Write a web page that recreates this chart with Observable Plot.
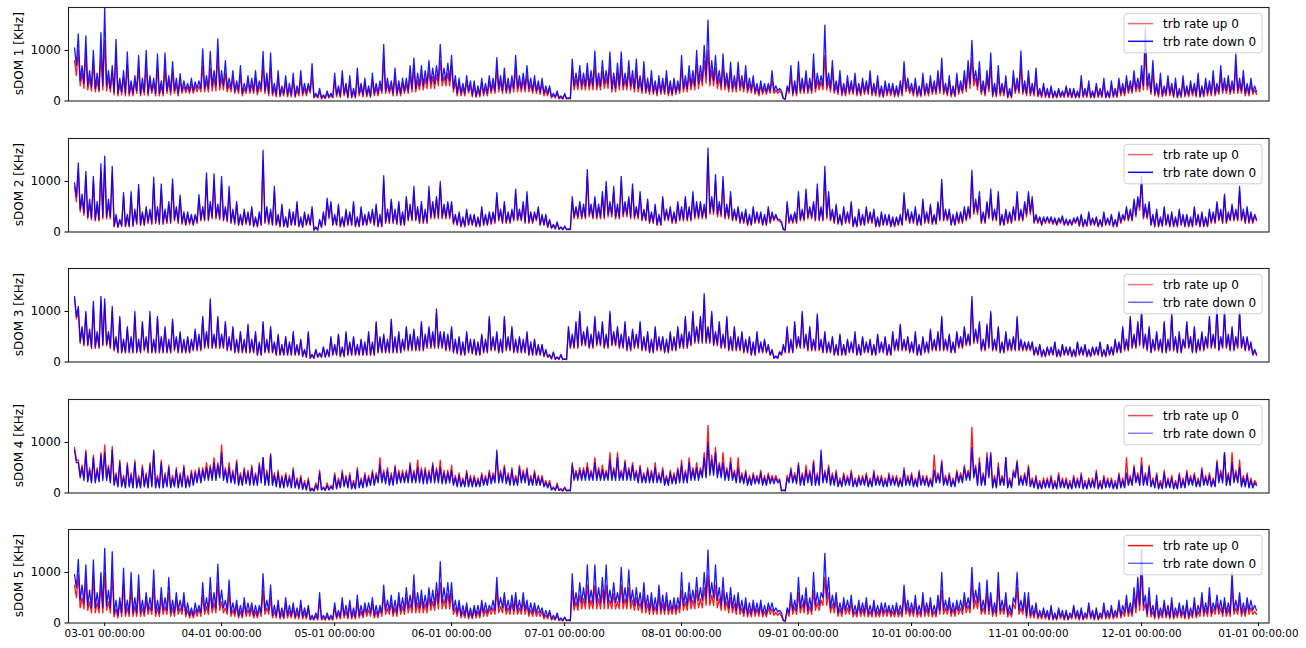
<!DOCTYPE html>
<html>
<head>
<meta charset="utf-8">
<script src="https://cdn.jsdelivr.net/npm/d3@7"></script>
<script src="https://cdn.jsdelivr.net/npm/@observablehq/plot@0.6"></script>
<style>
  html, body { margin: 0; padding: 0; background: #fff; overflow: hidden; }
  #chart svg { display: block; }
</style>
</head>
<body>
<div id="chart"></div>
<script>
// Readings starting 2022-02-21 (values in KHz): one value per day at 00:00 (pXDown / pXUp)
// and one value per day at 12:00 (pXDownMid / pXUpMid, the troughs between daily spikes).
const startDay = "2022-02-21";
const panelLabels = ["sDOM 1 [KHz]", "sDOM 2 [KHz]", "sDOM 3 [KHz]", "sDOM 4 [KHz]", "sDOM 5 [KHz]"];
const seriesNames = ["trb rate up 0", "trb rate down 0"];
const yTicks = [0, 1000];

const p1Down = [
 1050,1330,700,1290,600,1000,550,1350,
 1840,600,700,1220,450,600,970,400,500,900,450,1000,500,450,930,400,950,500,780,450,540,400,350,450,380,400,1030,500,980,600,1230,
 600,800,450,600,400,700,350,500,450,600,400,980,550,950,350,600,300,500,350,550,300,600,350,350,740,150,250,120,200,150,
 550,300,600,350,500,250,650,350,450,300,550,350,400,1120,450,400,650,400,450,450,700,850,550,700,600,800,650,700,1120,650,750,
 900,500,450,350,500,400,400,300,450,350,500,450,860,500,650,450,500,900,500,550,700,450,500,400,450,300,300,150,200,100,
 150,60,830,550,700,550,750,600,990,550,800,600,970,550,750,970,550,800,600,830,500,780,450,600,400,500,450,600,400,450,400,
 900,500,700,600,1000,700,1100,1600,800,900,600,930,550,770,500,770,500,700,450,500,350,400,350,350,600,300,250,50,300,700,400,
 780,450,600,450,930,550,500,1500,550,800,400,600,350,500,400,550,350,450,400,600,350,500,300,400,350,350,300,400,780,450,
 350,450,300,550,350,500,400,600,850,350,500,300,550,400,600,800,1200,600,780,400,600,950,350,700,350,500,250,600,450,990,400,
 600,350,650,250,350,250,300,200,250,200,300,250,250,200,500,250,400,200,350,250,450,200,400,250,450,350,500,400,600,450,
 700,1450,550,800,350,550,300,500,350,450,250,500,300,400,350,550,300,450,400,600,350,700,450,500,400,930,450,600,350,450,300
];
const p1DownMid = [
 700,400,350,300,280,250,220,300,
 300,250,180,150,180,150,150,150,200,150,180,150,200,150,150,150,200,180,200,150,200,220,200,200,250,250,250,250,300,300,300,
 300,250,250,200,200,150,200,200,200,180,250,200,150,150,120,120,150,120,120,100,150,150,150,200,80,80,60,70,80,80,
 120,100,150,80,80,80,150,120,120,100,150,150,200,200,200,150,150,150,200,200,250,250,300,300,350,350,350,400,400,400,400,
 250,150,150,150,200,120,100,120,150,150,200,200,250,200,200,200,250,250,250,250,250,200,200,180,150,150,80,80,60,50,
 50,50,300,300,300,300,300,300,300,300,350,350,250,250,300,300,300,300,250,250,200,200,180,180,150,180,180,150,150,180,200,
 250,250,300,300,350,400,500,400,400,350,300,300,250,250,250,280,250,220,220,180,150,180,180,200,200,200,200,40,200,150,150,
 200,200,200,200,250,300,300,300,250,200,180,150,150,180,180,150,150,180,180,150,150,120,100,150,150,120,120,150,250,200,
 150,120,120,150,150,180,180,200,180,150,120,120,180,200,250,350,400,300,180,150,250,120,120,150,150,80,80,200,200,180,150,
 150,150,120,100,100,80,80,80,100,100,100,80,80,80,100,100,80,80,100,100,80,80,100,100,150,150,200,200,250,250,
 300,300,180,150,120,120,150,150,100,80,100,120,120,150,120,100,120,150,150,150,180,200,200,180,200,200,200,150,150,180,180
];
const p1Up = [
 800,1000,550,950,450,750,400,900,
 1200,450,550,900,330,450,700,300,380,650,330,700,380,350,650,300,650,380,550,330,400,300,280,330,300,300,700,380,650,450,900,
 450,550,330,450,300,500,250,380,330,450,300,700,400,650,250,450,220,380,250,400,220,450,250,280,500,110,180,90,150,110,
 400,220,450,260,380,180,480,260,350,220,400,260,300,800,330,300,480,300,350,330,500,650,400,520,450,600,480,520,800,480,550,
 700,380,350,260,380,300,300,220,350,260,380,330,620,380,480,330,380,650,380,420,500,330,380,300,350,220,250,110,150,75,
 120,50,600,420,520,420,550,450,700,420,580,450,700,420,550,700,420,580,450,600,380,560,330,450,300,380,330,450,300,350,300,
 650,380,520,450,720,520,800,1000,600,650,450,680,420,560,380,560,380,520,330,380,260,300,260,280,420,220,200,45,250,500,300,
 560,330,450,330,650,400,380,900,400,580,300,450,260,380,300,420,260,350,300,450,260,380,220,300,260,280,220,300,560,330,
 260,350,220,420,260,380,300,450,620,260,380,220,420,300,450,600,850,450,560,300,450,680,260,500,260,380,180,450,330,700,300,
 450,260,480,180,280,180,240,150,200,150,240,180,200,150,380,180,300,150,280,180,350,150,300,180,350,260,380,300,450,330,
 520,1000,400,580,260,420,220,380,260,350,180,380,220,300,260,420,220,350,300,450,260,520,330,380,300,680,330,450,260,350,220
];
const p1UpMid = [
 500,300,250,220,200,180,180,220,
 200,180,120,100,120,100,100,100,150,100,120,100,150,100,100,100,150,120,150,100,150,160,150,150,180,180,180,180,200,200,220,
 220,180,180,150,150,100,150,150,150,120,180,150,100,100,80,80,100,80,80,70,100,100,100,150,60,60,40,50,60,60,
 80,70,100,60,60,60,100,80,80,70,100,100,150,150,150,100,100,100,150,150,180,180,220,220,250,250,250,300,300,300,300,
 180,100,100,100,150,80,70,80,100,100,150,150,180,150,150,150,180,180,180,180,180,150,150,130,100,100,60,60,40,40,
 40,40,220,220,220,220,220,220,220,220,250,250,180,180,220,220,220,220,180,180,150,150,130,130,100,130,130,100,100,130,150,
 180,180,220,220,250,300,350,300,300,250,220,220,180,180,180,200,180,160,160,130,100,130,130,150,150,150,150,30,150,100,100,
 150,150,150,150,180,220,220,220,180,150,130,100,100,130,130,100,100,130,130,100,100,80,70,100,100,80,80,100,180,150,
 100,80,80,100,100,130,130,150,130,100,80,80,130,150,180,250,300,220,130,100,180,80,80,100,100,60,60,150,150,130,100,
 100,100,80,70,70,60,60,60,70,70,70,60,60,60,70,70,60,60,70,70,60,60,70,70,100,100,150,150,180,180,
 220,220,130,100,80,80,100,100,70,60,70,80,80,100,80,70,80,100,100,100,130,150,150,130,150,150,150,100,100,130,130
];

const p2Down = [
 970,1365,750,1200,650,1100,600,1350,
 1500,650,1300,350,250,780,350,800,450,940,400,500,450,1085,500,950,450,600,1050,500,730,400,400,350,350,740,500,1170,600,1150,550,
 1100,500,900,450,600,350,450,400,500,300,400,1615,500,450,900,350,550,300,450,400,600,300,400,350,500,100,250,400,670,600,
 350,550,300,450,400,600,300,500,350,400,450,550,350,1117,450,650,450,600,400,700,550,900,500,600,450,900,600,700,1000,550,600,
 600,350,400,300,450,350,350,300,500,350,400,400,780,450,600,400,450,850,450,600,800,400,400,500,350,350,250,150,200,100,
 120,60,700,500,600,550,1235,550,700,550,800,1000,600,900,550,1100,600,700,950,500,800,450,650,400,550,350,700,450,500,400,600,
 500,700,500,800,600,600,550,1660,700,1137,600,1100,550,800,450,500,400,450,350,500,400,400,350,500,400,350,250,50,600,350,400,
 800,450,850,500,600,950,500,1300,800,450,550,350,500,400,600,300,450,350,500,400,450,300,400,350,350,300,300,350,775,450,
 400,500,350,650,400,550,350,600,1040,450,450,350,400,400,500,500,1220,650,800,400,600,850,450,800,350,450,400,500,800,450,600,
 800,700,350,300,300,300,300,280,280,320,260,250,280,300,350,250,400,280,300,250,400,280,350,250,400,350,500,450,650,700,
 1100,550,600,350,450,300,500,350,400,300,450,350,350,300,500,350,400,300,450,400,600,450,750,400,550,450,900,450,500,400,350
];
const p2DownMid = [
 700,450,380,300,280,250,250,300,
 300,300,120,100,130,120,120,130,180,150,150,200,180,200,180,180,200,200,250,200,180,150,180,150,200,250,250,250,300,300,280,
 250,230,200,180,150,150,180,150,120,120,150,200,180,150,150,120,120,100,150,150,120,100,150,150,40,40,100,150,300,150,
 150,120,120,150,150,120,120,150,150,200,150,120,120,200,200,200,180,150,150,250,250,250,200,200,200,300,300,300,300,300,300,
 180,150,120,120,150,150,120,120,150,150,180,200,250,200,200,200,250,250,250,200,200,200,250,150,150,100,80,70,60,50,
 50,50,300,300,300,300,350,300,300,300,300,350,350,300,300,350,350,300,300,300,250,250,200,200,150,150,250,250,200,200,250,
 250,250,250,300,300,300,300,400,400,350,350,300,300,250,250,200,200,150,150,200,200,150,150,200,250,250,200,40,200,200,200,
 250,250,300,300,250,250,250,300,250,200,180,150,200,200,120,120,150,150,200,200,120,120,150,150,120,120,150,150,250,200,
 200,150,150,200,200,180,180,250,250,250,150,150,200,200,250,300,400,400,200,200,300,250,250,150,150,200,200,250,250,250,350,
 400,200,200,150,200,200,180,150,200,150,150,150,200,130,120,130,150,150,120,120,150,150,120,120,200,250,250,250,350,500,
 300,300,150,120,120,130,150,120,120,120,150,120,120,120,150,120,120,120,200,200,250,200,200,250,250,250,250,200,200,200,250
];
const p2Up = [
 900,1200,650,1100,550,1000,500,1200,
 1300,550,1150,300,220,700,300,700,400,850,350,450,400,950,450,850,400,550,950,450,650,350,350,300,320,650,450,1050,550,1000,500,
 950,450,800,400,550,300,400,350,450,250,350,1400,450,400,800,300,500,250,400,350,550,250,350,300,450,90,220,350,600,550,
 300,500,250,400,350,550,250,450,300,350,400,500,300,1000,400,600,400,550,350,650,480,800,450,550,400,800,550,650,900,480,550,
 550,300,350,250,400,300,320,250,450,300,350,350,700,400,550,350,400,750,400,550,700,350,350,450,300,300,220,130,180,90,
 100,50,600,450,550,480,1100,480,650,480,700,900,520,800,480,1000,520,650,850,450,700,400,600,350,500,300,650,400,450,350,550,
 450,650,450,700,520,550,480,1500,620,1000,520,1000,480,700,400,450,350,400,300,450,350,350,300,450,350,320,220,45,550,300,350,
 700,400,750,450,550,850,450,1150,700,400,500,300,450,350,550,250,400,300,450,350,400,250,350,300,320,250,280,300,700,400,
 350,450,300,600,350,500,300,550,950,400,400,300,350,350,450,450,1100,580,700,350,550,750,400,700,300,400,350,450,700,400,550,
 700,620,300,280,260,280,260,250,240,280,230,230,240,280,320,220,350,250,280,220,350,250,320,220,350,300,450,400,580,620,
 1000,480,550,300,400,250,450,300,350,250,400,300,320,250,450,300,350,250,400,350,550,400,700,350,500,400,800,400,450,350,320
];
const p2UpMid = [
 600,400,330,260,240,220,220,260,
 260,260,100,90,110,100,100,110,150,130,130,170,150,170,150,150,170,170,220,170,150,130,150,130,170,220,220,220,260,260,240,
 220,200,170,150,130,130,150,130,100,100,130,170,150,130,130,100,100,90,130,130,100,90,130,130,35,35,90,130,260,130,
 130,100,100,130,130,100,100,130,130,170,130,100,100,170,170,170,150,130,130,220,220,220,170,170,170,260,260,260,260,260,260,
 150,130,100,100,130,130,100,100,130,130,150,170,220,170,170,170,220,220,220,170,170,170,220,130,130,90,70,60,50,45,
 45,45,260,260,260,260,300,260,260,260,260,300,300,260,260,300,300,260,260,260,220,220,170,170,130,130,220,220,170,170,220,
 220,220,220,260,260,260,260,350,350,300,300,260,260,220,220,170,170,130,130,170,170,130,130,170,220,220,170,35,170,170,170,
 220,220,260,260,220,220,220,260,220,170,150,130,170,170,100,100,130,130,170,170,100,100,130,130,100,100,130,130,220,170,
 170,130,130,170,170,150,150,220,220,220,130,130,170,170,220,260,350,350,170,170,260,220,220,130,130,170,170,220,220,220,300,
 350,170,170,130,170,170,150,130,170,130,130,130,170,110,100,110,130,130,100,100,130,130,100,100,170,220,220,220,300,430,
 260,260,130,100,100,110,130,100,100,100,130,100,100,100,130,100,100,100,170,170,220,170,170,220,220,220,220,170,170,170,220
];

const p3Down = [
 1300,1100,700,1000,650,1200,600,1300,
 1250,600,1100,500,900,450,700,500,1000,450,800,500,1000,450,900,500,700,450,850,500,600,450,500,450,650,550,900,600,1250,550,900,
 550,800,500,700,450,600,450,750,450,600,400,800,450,700,400,550,350,500,400,600,350,450,250,600,150,250,180,300,250,500,
 350,550,300,600,400,500,350,450,400,600,400,800,500,550,450,850,500,600,450,700,550,650,500,800,550,700,600,1050,600,600,550,
 700,450,500,400,600,450,450,400,550,450,900,500,600,450,900,500,700,450,500,450,600,400,450,350,350,250,150,200,100,150,
 60,700,550,800,1000,600,700,550,900,600,800,550,1000,600,700,550,800,500,650,550,800,500,600,450,700,500,500,450,600,500,700,
 550,900,600,1000,700,900,1350,700,1000,600,800,550,900,500,700,500,600,450,500,400,600,400,450,350,250,120,200,350,700,450,800,
 500,1000,550,700,450,950,450,600,400,500,350,550,350,450,400,600,350,500,400,450,350,550,400,500,350,600,450,750,450,500,
 400,600,350,500,400,650,450,600,900,450,550,400,600,500,700,550,1300,650,800,450,750,1000,450,700,400,600,450,500,900,450,400,
 400,400,300,350,250,300,300,400,250,350,300,300,250,400,300,350,250,300,300,400,250,350,300,450,400,700,450,900,550,800,
 1000,550,700,450,600,450,800,450,950,500,600,450,800,500,700,450,600,500,900,550,1100,500,1000,550,700,500,1000,500,500,400,250
];
const p3DownMid = [
 900,400,350,350,300,300,300,350,
 350,300,250,200,200,200,200,200,200,200,250,200,200,200,200,200,200,200,250,200,200,200,200,250,250,250,300,300,300,300,300,
 300,250,250,200,200,200,200,200,200,150,150,200,200,200,150,150,150,150,150,150,150,120,100,80,80,100,100,100,120,150,
 150,120,120,150,150,150,150,150,150,150,150,200,200,200,200,200,200,200,250,250,250,250,250,250,300,300,300,300,300,250,250,
 200,180,150,150,200,180,150,150,200,200,250,250,200,200,250,250,200,200,200,200,150,150,150,150,120,100,70,60,60,50,
 50,300,300,300,350,350,300,300,350,350,300,300,350,350,300,300,250,250,300,300,250,250,200,200,250,250,200,200,250,250,300,
 300,300,350,400,400,400,400,400,350,350,300,300,250,250,250,250,200,200,150,150,200,200,200,150,80,80,150,200,200,200,300,
 300,300,250,250,250,250,200,200,200,150,150,150,150,200,200,150,150,200,200,150,150,200,200,150,150,250,250,250,250,200,
 200,150,150,200,200,250,250,250,250,250,200,200,300,300,350,350,400,400,250,250,300,250,250,200,200,250,250,250,250,250,250,
 250,150,150,120,120,150,150,120,120,150,150,120,120,150,150,120,120,150,150,120,120,150,150,200,200,250,250,300,300,350,
 300,250,200,250,250,200,200,250,250,200,200,300,300,200,200,250,250,300,300,300,250,300,300,250,250,300,300,250,250,150,150
];
const p3Up = [
 1250,1000,650,950,600,1100,550,1200,
 1150,550,1000,450,850,400,650,450,900,400,750,450,900,400,850,450,650,400,800,450,550,400,480,400,600,500,850,550,1150,500,850,
 500,750,450,650,400,580,400,700,400,550,350,750,400,650,350,500,300,480,350,550,300,420,220,550,130,230,160,280,220,470,
 300,520,270,550,350,480,300,420,350,550,350,750,450,520,400,800,450,550,400,650,500,600,450,750,500,650,550,950,550,550,500,
 650,400,480,350,550,400,420,350,520,400,850,450,550,400,850,450,650,400,480,400,550,350,420,300,330,220,130,180,90,140,
 55,650,500,750,950,550,650,500,850,550,750,500,950,550,650,500,750,450,600,500,750,450,550,400,650,450,480,400,550,450,650,
 500,850,550,950,650,850,1250,650,950,550,750,500,850,450,650,450,550,400,480,350,550,350,420,300,220,110,200,300,650,400,750,
 450,950,500,650,400,900,400,550,350,480,300,520,300,420,350,550,300,480,350,420,300,520,350,480,300,550,400,700,400,480,
 350,550,300,480,350,600,400,550,850,400,520,350,550,450,650,500,1200,600,750,400,700,950,400,650,350,550,400,480,850,400,380,
 350,380,260,330,220,280,260,380,220,330,260,280,220,380,260,330,220,280,260,380,220,330,260,420,350,650,400,850,500,750,
 950,500,650,400,550,400,750,400,900,450,550,400,750,450,650,400,550,450,850,500,1000,450,950,500,650,450,950,450,480,350,230
];
const p3UpMid = [
 850,370,320,320,270,270,270,320,
 320,270,220,180,180,180,180,180,180,180,220,180,180,180,180,180,180,180,220,180,180,180,180,220,220,220,270,270,270,270,270,
 270,220,220,180,180,180,180,180,180,130,130,180,180,180,130,130,130,130,130,130,130,100,90,70,70,90,90,90,100,130,
 130,100,100,130,130,130,130,130,130,130,130,180,180,180,180,180,180,180,220,220,220,220,220,220,270,270,270,270,270,220,220,
 180,160,130,130,180,160,130,130,180,180,220,220,180,180,220,220,180,180,180,180,130,130,130,130,100,90,60,50,50,45,
 45,270,270,270,320,320,270,270,320,320,270,270,320,320,270,270,220,220,270,270,220,220,180,180,220,220,180,180,220,220,270,
 270,270,320,370,370,370,370,370,320,320,270,270,220,220,220,220,180,180,130,130,180,180,180,130,70,70,130,180,180,180,270,
 270,270,220,220,220,220,180,180,180,130,130,130,130,180,180,130,130,180,180,130,130,180,180,130,130,220,220,220,220,180,
 180,130,130,180,180,220,220,220,220,220,180,180,270,270,320,320,370,370,220,220,270,220,220,180,180,220,220,220,220,220,220,
 220,130,130,100,100,130,130,100,100,130,130,100,100,130,130,100,100,130,130,100,100,130,130,180,180,220,220,270,270,320,
 270,220,180,220,220,180,180,220,220,180,180,270,270,180,180,220,220,270,270,270,220,270,270,220,220,270,270,220,220,130,130
];

const p4Down = [
 850,600,500,800,450,700,450,750,
 800,500,850,350,600,300,550,350,600,300,500,350,550,850,300,600,350,500,300,450,350,500,300,400,400,450,450,500,500,600,550,
 800,450,500,400,600,350,450,400,500,350,550,700,400,750,350,400,300,350,300,450,250,300,200,250,80,150,400,100,150,120,
 350,250,400,300,350,200,450,250,350,300,400,350,550,400,450,350,500,400,400,400,550,400,500,450,450,400,550,450,500,400,400,
 450,300,350,250,400,300,300,250,350,300,400,350,850,400,500,350,450,300,500,400,450,300,400,300,300,200,200,100,150,70,
 100,50,550,400,450,450,500,400,600,450,450,400,650,450,700,400,600,450,550,400,500,350,450,400,500,350,450,300,400,350,450,
 550,400,600,450,500,450,700,1000,650,800,550,600,450,600,400,500,350,400,300,350,300,400,300,350,300,300,250,50,300,450,350,
 550,350,450,400,600,350,850,400,500,350,400,250,350,300,400,250,300,300,350,250,400,300,300,250,350,300,300,250,450,300,
 350,250,400,300,300,250,450,350,600,300,350,250,400,350,500,400,900,500,600,350,700,800,300,500,300,700,250,400,600,300,350,
 500,250,300,200,250,250,300,200,350,250,250,200,300,250,350,200,250,250,400,200,300,250,250,200,350,250,400,300,500,350,
 550,350,500,250,350,200,400,250,300,200,350,250,400,300,350,250,450,300,350,250,600,400,800,350,600,400,500,300,350,250,200
];
const p4DownMid = [
 600,300,250,220,200,200,220,250,
 250,200,150,120,120,100,120,100,100,100,120,100,120,100,100,100,120,100,120,100,120,100,120,150,200,200,250,250,250,250,300,
 250,200,200,180,150,150,180,150,150,150,200,150,150,150,120,100,100,120,100,100,80,70,60,40,40,60,60,50,60,70,
 80,100,120,100,80,80,100,100,120,150,150,200,200,180,150,150,180,200,200,200,200,200,200,180,180,200,200,200,180,180,200,
 150,120,120,120,120,120,120,120,150,150,180,200,200,200,180,150,150,150,200,200,150,150,150,150,120,100,60,50,50,40,
 40,40,250,250,250,250,250,250,250,250,250,250,250,250,250,250,250,250,250,200,200,200,200,200,200,200,150,150,180,180,200,
 200,200,250,250,250,300,300,350,350,300,300,250,250,250,200,200,180,150,150,180,180,150,150,180,180,200,40,40,200,200,180,
 150,150,200,150,150,150,200,200,150,150,120,120,150,150,120,120,150,150,120,120,150,150,120,120,150,150,120,120,150,150,
 120,120,150,150,120,120,200,200,150,150,120,120,200,200,250,250,300,150,150,150,300,100,100,150,150,100,100,300,150,150,150,
 120,100,80,80,100,100,80,80,100,100,80,80,100,100,80,80,100,100,80,80,100,100,80,80,100,100,150,150,200,150,
 150,150,120,100,80,80,100,100,80,80,100,100,150,150,120,120,150,150,120,120,200,200,150,150,200,200,120,120,100,100,150
];
const p4Up = [
 900,650,550,850,500,750,500,800,
 950,550,920,400,650,350,600,400,650,350,550,400,600,800,350,650,400,550,350,500,400,550,350,450,450,500,500,600,550,700,600,
 950,500,600,450,650,400,500,450,550,400,600,700,450,780,400,450,350,400,350,500,300,350,250,300,100,200,450,120,200,150,
 400,300,450,350,400,250,500,300,400,350,450,400,700,450,500,400,550,450,450,450,600,450,650,500,500,450,600,500,650,450,450,
 550,350,400,300,450,350,350,300,400,350,450,400,750,450,550,400,500,350,550,450,500,350,450,350,350,250,250,120,200,90,
 120,60,600,450,500,500,600,450,700,500,550,450,800,500,800,450,650,500,600,450,550,400,500,450,600,400,500,350,450,400,500,
 650,450,700,500,600,500,800,1340,750,900,600,800,500,700,450,700,400,450,350,400,350,450,350,400,350,350,280,60,350,500,400,
 600,400,550,450,650,400,750,450,550,400,450,300,400,350,450,300,350,350,400,300,450,350,350,300,400,350,350,300,500,350,
 400,300,450,350,350,300,750,400,650,350,400,300,450,400,550,450,1300,550,700,400,800,750,350,600,350,700,300,450,650,350,400,
 550,300,350,250,300,300,350,250,400,300,300,250,350,300,400,250,300,300,450,250,350,300,300,250,400,300,700,350,550,400,
 700,400,550,300,400,250,450,300,350,250,400,300,450,350,400,300,500,350,400,300,650,450,800,400,800,450,650,350,400,300,250
];
const p4UpMid = [
 650,350,300,260,240,240,260,300,
 300,240,180,150,150,120,150,120,120,120,150,120,150,120,120,120,150,120,150,120,150,120,150,180,240,240,300,300,300,300,350,
 300,240,240,220,180,180,220,180,180,180,240,180,180,180,150,120,120,150,120,120,100,90,70,50,50,70,70,60,70,90,
 100,120,150,120,100,100,120,120,150,180,180,240,240,220,180,180,220,240,240,240,240,240,240,220,220,240,240,240,220,220,240,
 180,150,150,150,150,150,150,150,180,180,220,240,240,240,220,180,180,180,240,240,180,180,180,180,150,120,70,60,60,50,
 50,50,300,300,300,300,300,300,300,300,300,300,300,300,300,300,300,300,300,240,240,240,240,240,240,240,180,180,220,220,240,
 240,240,300,300,300,350,350,400,400,350,350,300,300,300,240,240,220,180,180,220,220,180,180,220,220,240,50,50,240,240,220,
 180,180,240,180,180,180,240,240,180,180,150,150,180,180,150,150,180,180,150,150,180,180,150,150,180,180,150,150,180,180,
 150,150,180,180,150,150,240,240,180,180,150,150,240,240,300,300,350,180,180,180,350,120,120,180,180,120,120,350,180,180,180,
 150,120,100,100,120,120,100,100,120,120,100,100,120,120,100,100,120,120,100,100,120,120,100,100,120,120,180,180,240,180,
 180,180,150,120,100,100,120,120,100,100,120,120,180,180,150,150,180,180,150,150,240,240,180,180,240,240,150,150,120,120,180
];

const p5Down = [
 955,1260,750,1150,650,1250,600,1000,
 1476,650,1411,450,500,1085,450,1000,500,950,450,600,500,1050,450,700,500,900,450,600,450,600,400,300,400,350,800,500,900,600,1163,
 650,450,850,400,450,350,500,400,400,350,350,974,450,750,350,450,300,500,350,400,300,450,300,350,150,200,600,150,200,150,
 400,250,500,350,450,300,550,350,400,400,500,350,350,750,450,550,450,600,500,700,550,950,600,650,550,700,650,800,1215,700,800,
 800,450,450,350,400,300,350,350,450,400,350,450,900,500,600,450,550,600,450,600,450,400,400,350,300,250,250,150,200,100,
 120,60,975,600,800,700,1150,650,1150,700,900,1150,650,800,600,1100,700,1050,650,700,600,800,550,600,500,750,550,600,450,500,500,
 1000,600,800,650,900,700,1000,1444,800,1150,700,900,600,700,550,600,450,500,400,450,400,450,350,400,400,300,250,50,300,600,450,
 900,550,700,500,1000,600,600,1379,900,550,600,400,500,450,550,350,450,400,500,350,450,350,400,400,350,350,400,350,750,450,
 400,550,350,600,400,500,350,550,1000,450,500,400,450,450,600,500,1100,650,800,450,850,600,400,1000,450,600,350,500,1000,450,600,
 600,350,400,250,300,250,350,200,300,250,250,200,350,250,300,200,400,250,300,200,400,250,350,250,450,350,550,400,700,900,
 1450,550,700,350,550,300,450,350,500,300,400,350,450,300,500,350,600,400,700,400,550,450,500,400,1000,450,600,400,500,450,350
];
const p5DownMid = [
 700,450,400,350,300,300,300,300,
 350,300,180,150,200,200,200,200,200,200,200,250,250,200,200,250,250,200,200,250,250,180,150,150,200,200,250,250,300,300,350,
 300,250,200,200,150,150,200,200,150,150,200,250,250,150,150,120,120,150,150,120,120,120,120,80,80,80,80,80,80,80,
 120,120,150,120,120,120,150,150,200,200,150,150,200,250,250,200,200,250,250,300,300,300,300,300,300,350,350,400,400,400,400,
 250,200,150,150,120,120,150,150,200,200,250,250,300,300,250,250,250,250,250,250,200,200,200,200,120,120,80,80,60,50,
 50,50,350,350,400,400,400,400,400,400,400,400,400,400,400,400,400,400,350,350,300,300,250,250,250,250,250,250,250,250,300,
 350,350,400,400,450,450,500,500,500,450,350,350,300,300,250,250,200,180,180,200,200,180,180,250,220,220,200,40,200,250,250,
 300,300,250,250,350,350,500,500,300,300,200,200,250,250,180,180,200,200,180,180,180,180,200,200,180,180,180,180,250,200,
 200,180,180,200,200,180,180,250,250,250,200,200,250,250,300,300,400,400,250,250,250,200,200,250,250,180,180,400,250,250,150,
 150,150,120,120,120,80,80,80,120,80,80,120,120,80,80,120,120,80,80,120,120,120,120,150,150,200,200,200,300,350,
 350,180,180,120,120,150,150,120,120,150,150,120,120,150,150,200,200,200,200,250,250,200,200,200,250,250,200,200,250,250,250
];
const p5Up = [
 750,950,500,850,420,900,400,750,
 1000,420,950,280,380,750,300,700,330,650,300,450,330,700,300,500,330,600,300,450,300,450,260,230,260,280,550,330,600,400,800,
 420,300,600,260,350,230,380,260,300,230,280,650,300,500,230,350,200,380,230,300,200,350,200,280,100,140,450,100,140,100,
 300,180,380,230,350,200,400,230,300,260,380,230,280,550,300,400,300,450,330,500,380,650,400,480,380,520,430,580,800,460,580,
 580,300,350,230,300,200,280,230,350,260,280,300,650,330,450,300,400,450,300,450,350,260,300,230,230,160,200,100,150,70,
 100,50,650,420,550,480,750,450,750,480,650,750,450,580,420,750,480,700,450,500,400,580,380,450,330,550,380,450,330,380,350,
 650,420,580,450,650,480,700,950,550,750,480,650,420,500,380,450,300,380,260,350,280,350,230,300,280,210,200,45,250,450,320,
 600,380,500,330,650,400,450,900,600,380,450,280,380,300,400,230,350,280,380,230,350,230,300,260,280,230,300,230,550,320,
 280,400,230,450,280,380,230,400,650,300,380,280,350,300,450,350,800,450,580,300,600,450,280,700,300,450,230,380,700,300,450,
 450,230,300,180,230,180,280,140,230,180,200,140,280,180,230,140,300,180,230,140,300,180,280,180,350,230,400,280,500,650,
 1000,380,500,230,400,200,350,230,380,200,300,230,350,200,380,230,450,280,500,280,400,300,380,280,700,300,450,280,380,300,230
];
const p5UpMid = [
 500,300,280,250,200,200,200,200,
 250,200,120,100,130,130,130,130,130,130,130,170,170,130,130,170,170,130,130,170,170,120,100,100,130,130,170,170,200,200,250,
 200,170,130,130,100,100,130,130,100,100,130,170,170,100,100,80,80,100,100,80,80,80,80,60,60,60,60,60,60,60,
 80,80,100,80,80,80,100,100,130,130,100,100,130,170,170,130,130,170,170,200,200,200,200,200,200,250,250,280,280,280,280,
 170,130,100,100,80,80,100,100,130,130,170,170,200,200,170,170,170,170,170,170,130,130,130,130,80,80,60,60,45,40,
 40,40,250,250,280,280,280,280,280,280,280,280,280,280,280,280,280,280,250,250,200,200,170,170,170,170,170,170,170,170,200,
 250,250,280,280,300,300,350,350,350,300,250,250,200,200,170,170,130,120,120,130,130,120,120,170,150,150,130,30,130,170,170,
 200,200,170,170,250,250,350,350,200,200,130,130,170,170,120,120,130,130,120,120,120,120,130,130,120,120,120,120,170,130,
 130,120,120,130,130,120,120,170,170,170,130,130,170,170,200,200,280,280,170,170,170,130,130,170,170,120,120,280,170,170,100,
 100,100,80,80,80,60,60,60,80,60,60,80,80,60,60,80,80,60,60,80,80,80,80,100,100,130,130,130,200,250,
 250,120,120,80,80,100,100,80,80,100,100,80,80,100,100,130,130,130,130,170,170,130,130,130,170,170,130,130,170,170,170
];

const ups = [p1Up, p2Up, p3Up, p4Up, p5Up];
const upMids = [p1UpMid, p2UpMid, p3UpMid, p4UpMid, p5UpMid];
const downs = [p1Down, p2Down, p3Down, p4Down, p5Down];
const downMids = [p1DownMid, p2DownMid, p3DownMid, p4DownMid, p5DownMid];
// legend line alpha per panel (as seen in the reference legends)
const legendAlpha = [[0.6, 0.95], [0.6, 0.95], [0.55, 0.6], [0.7, 0.5], [0.95, 0.6]];

const t0 = Date.parse(startDay + "T00:00:00Z");
const dayMs = 864e5;
// interleave the 00:00 and 12:00 readings into one time series
function series(day, mid) {
  const out = [];
  day.forEach((v, i) => {
    out.push({t: new Date(t0 + i * dayMs), v});
    if (mid[i] != null) out.push({t: new Date(t0 + (i + 0.5) * dayMs), v: mid[i]});
  });
  return out;
}
const xDomain = [new Date(t0 - 1.6 * dayMs), new Date(t0 + 316.8 * dayMs)];
const monthTicks = d3.utcMonths(new Date(Date.UTC(2022, 2, 1)), new Date(Date.UTC(2023, 0, 2)));
const fmt = d3.utcFormat("%m-%d %H:%M:%S");

const W = 1306, ML = 68, MR = 37.5, MT = 7, PH = 93.5;
const chart = document.getElementById("chart");

for (let p = 0; p < 5; p++) {
  const last = p === 4;
  const MB = last ? 26 : 30;
  const svg = Plot.plot({
    width: W,
    height: MT + PH + MB,
    marginTop: MT, marginBottom: MB, marginLeft: ML, marginRight: MR,
    style: {fontFamily: "DejaVu Sans, sans-serif", fontSize: "10px", color: "#000", background: "#fff"},
    x: {type: "utc", domain: xDomain},
    y: {domain: [0, 1850]},
    marks: [
      Plot.lineY(series(ups[p], upMids[p]), {x: "t", y: "v", stroke: "#ff0000", strokeWidth: 1.3, strokeOpacity: 0.9}),
      Plot.lineY(series(downs[p], downMids[p]), {x: "t", y: "v", stroke: "#0000ff", strokeWidth: 1.3, strokeOpacity: 0.9}),
      Plot.axisY({ticks: yTicks, tickSize: 3.5, tickPadding: 4, label: null, fontSize: 12, tickFormat: d3.format("d")}),
      last
        ? Plot.axisX({ticks: monthTicks, tickSize: 3.5, tickPadding: 3, fontSize: 10.4, tickFormat: fmt, label: null})
        : Plot.axisX({ticks: [], label: null}),
      Plot.frame({stroke: "#222", strokeWidth: 1.1})
    ]
  });
  const g = d3.select(svg).append("g")
    .attr("font-family", "DejaVu Sans, sans-serif").attr("font-size", 12).attr("text-anchor", "start");
  // rotated y label
  g.append("text")
    .attr("transform", `translate(18.5,${MT + PH / 2}) rotate(-90)`)
    .attr("text-anchor", "middle").attr("dy", "0.35em").attr("fill", "#000")
    .text(panelLabels[p]);
  // legend box (upper right, semi-transparent white like matplotlib)
  const lx = 1124, ly = MT + 6.3, lw = 138, lh = 39.5;
  g.append("rect").attr("x", lx).attr("y", ly).attr("width", lw).attr("height", lh)
    .attr("rx", 3).attr("fill", "#fff").attr("fill-opacity", 0.8).attr("stroke", "#d0d0d0").attr("stroke-width", 1);
  const colors = ["#ff0000", "#0000ff"];
  [0, 1].forEach(k => {
    const yy = ly + 10.3 + k * 17.7;
    g.append("line").attr("x1", lx + 4).attr("x2", lx + 29).attr("y1", yy).attr("y2", yy)
      .attr("stroke", colors[k]).attr("stroke-width", 1.5).attr("stroke-opacity", legendAlpha[p][k]);
    g.append("text").attr("x", lx + 39).attr("y", yy).attr("dy", "0.35em")
      .attr("text-anchor", "start").attr("fill", "#000").text(seriesNames[k]);
  });
  chart.appendChild(svg);
}
</script>
</body>
</html>
